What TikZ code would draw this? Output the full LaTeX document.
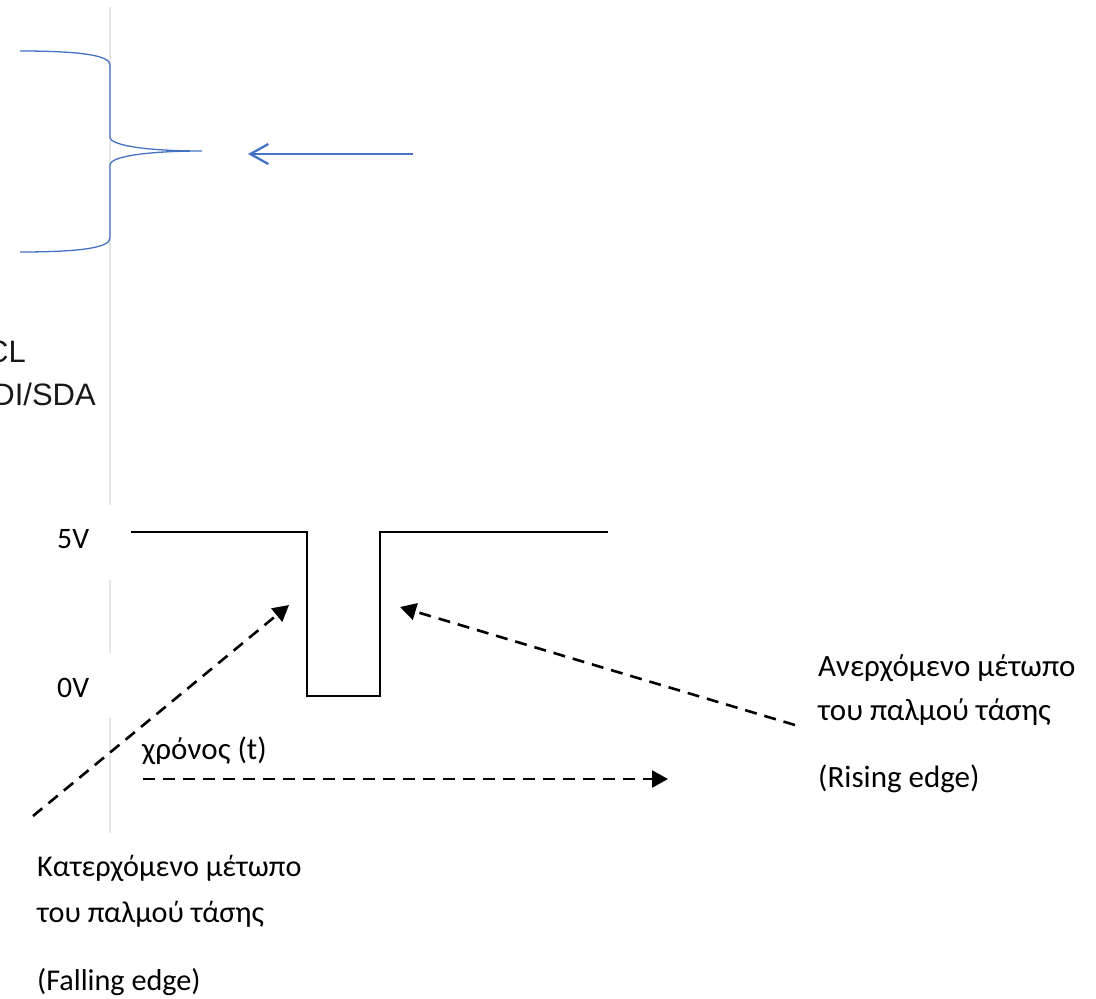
\documentclass[tikz,border=0pt]{standalone}
\usepackage{fontspec}
\setmainfont{Carlito}
\newfontfamily\arialfont{Liberation Sans}
\usetikzlibrary{arrows.meta}
\definecolor{officeblue}{HTML}{4472C4}
\definecolor{guide}{HTML}{E6E6E6}
\tikzset{
  lbl/.style={anchor=base west, inner sep=0pt, font=\fontsize{31}{36}\selectfont},
  lblf/.style={lbl, font=\fontsize{30.2}{36}\selectfont},
  lblv/.style={lbl, font=\fontsize{29.7}{36}\selectfont},
  sig/.style={anchor=base east, inner sep=0pt, font=\arialfont\fontsize{31}{36}\selectfont, text=black!90},
  wave/.style={draw=black, line width=2.2pt},
  dasharrow/.style={draw=black, line width=2.6pt, dash pattern=on 12pt off 8pt, -{Triangle[length=16pt,width=17pt]}},
  bluearrow/.style={draw=officeblue, line width=2.3pt, -{Straight Barb[length=18pt,width=20pt,line width=2.3pt]}},
  brace/.style={draw=officeblue, line width=1.3pt},
  guideline/.style={draw=guide, line width=1.5pt}
}
\begin{document}
\begin{tikzpicture}[x=1pt,y=-1pt]
\useasboundingbox (0,0) rectangle (1096,999);
% light gray vertical guide line
\draw[guideline] (110,7) -- (110,505);
\draw[guideline] (110,580) -- (110,653);
\draw[guideline] (110,718) -- (110,833);
% brace
\coordinate (bt) at (20,51);
\coordinate (bb) at (20,252);
\coordinate (tip) at (202,151);
\draw[brace] (bt) .. controls (85,51) and (110,56) .. (110,65) -- (110,137)
  .. controls (110,146) and (150,151) .. (tip)
  .. controls (150,151) and (110,156) .. (110,165) -- (110,238)
  .. controls (110,247) and (85,252) .. (bb);
% blue arrow
\coordinate (ba) at (413,154);
\coordinate (bz) at (248,154);
\draw[bluearrow] (ba) -- (bz);
% signal names (clipped at the left edge)
\node[sig] (scl) at (26,362) {CL};
\node[sig] (sda) at (96,405) {DI/SDA};
% voltage labels
\node[lblv] (v5) at (57,548) {5V};
\node[lblv] (v0) at (57,697) {0V};
% pulse
\coordinate (p0) at (131,532);
\coordinate (p1) at (307,532);
\coordinate (p2) at (307,696);
\coordinate (p3) at (380,696);
\coordinate (p4) at (380,532);
\coordinate (p5) at (608,532);
\draw[wave] (p0) -- (p1) -- (p2) -- (p3) -- (p4) -- (p5);
% time
\node[lbl] (time) at (142,759) {χρόνος (t)};
\coordinate (t0) at (143,779);
\coordinate (t1) at (668,779);
\draw[dasharrow] (t0) -- (t1);
% falling edge annotation
\coordinate (f0) at (33,816);
\coordinate (f1) at (289,605);
\draw[dasharrow] (f0) -- (f1);
\node[lblf] (fa) at (37,876) {Κατερχόμενο μέτωπο};
\node[lblf] (fb) at (37,922) {του παλμού τάσης};
\node[lblf] (fc) at (37,990) {(Falling edge)};
% rising edge annotation
\coordinate (r0) at (795,725);
\coordinate (r1) at (400,607);
\draw[dasharrow] (r0) -- (r1);
\node[lbl] (ra) at (818,676) {Ανερχόμενο μέτωπο};
\node[lbl] (rb) at (818,720) {του παλμού τάσης};
\node[lbl] (rc) at (818,787) {(Rising edge)};
\end{tikzpicture}
\end{document}
